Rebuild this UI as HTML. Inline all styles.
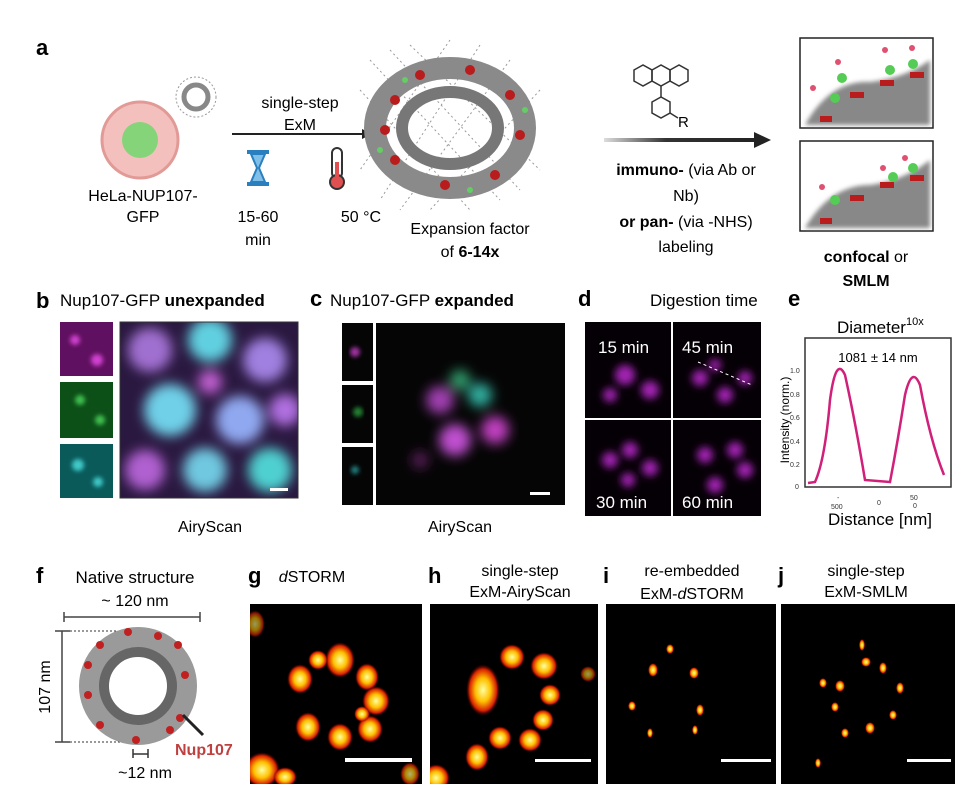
<!DOCTYPE html>
<html><head><meta charset="utf-8"><style>
body{margin:0;background:#fff;}
svg{display:block;font-family:"Liberation Sans",sans-serif;}
</style></head><body>
<svg width="980" height="803" viewBox="0 0 980 803" xmlns="http://www.w3.org/2000/svg">
<defs>
<filter id="b2"><feGaussianBlur stdDeviation="2"/></filter>
<filter id="b4"><feGaussianBlur stdDeviation="4"/></filter>
<filter id="b6"><feGaussianBlur stdDeviation="6"/></filter>
<radialGradient id="hot"><stop offset="0" stop-color="#ffffa0"/><stop offset="0.45" stop-color="#ffc000"/><stop offset="0.8" stop-color="#d82000"/><stop offset="1" stop-color="#400" stop-opacity="0"/></radialGradient>
<marker id="ah" markerWidth="10" markerHeight="10" refX="8" refY="5" orient="auto" markerUnits="userSpaceOnUse"><path d="M0,0 L10,5 L0,10z" fill="#222"/></marker>
<linearGradient id="ag" x1="0" x2="1" y1="0" y2="0"><stop offset="0" stop-color="#ddd"/><stop offset="0.4" stop-color="#333"/><stop offset="1" stop-color="#222"/></linearGradient>
</defs>

<!-- panel a -->
<text x="36" y="55" font-size="22" font-weight="bold">a</text>
<circle cx="140" cy="140" r="38" fill="#f3c0bd" stroke="#e29a96" stroke-width="3"/>
<circle cx="140" cy="140" r="18" fill="#86d47a"/>
<circle cx="196" cy="97" r="20" fill="#fff" stroke="#999" stroke-dasharray="2 2"/>
<circle cx="196" cy="97" r="12" fill="none" stroke="#888" stroke-width="5"/>
<text x="143" y="201" font-size="16" text-anchor="middle">HeLa-NUP107-</text>
<text x="143" y="222" font-size="16" text-anchor="middle">GFP</text>
<text x="300" y="108" font-size="16" text-anchor="middle">single-step</text>
<text x="300" y="130" font-size="16" text-anchor="middle">ExM</text>
<line x1="232" y1="134" x2="370" y2="134" stroke="#222" stroke-width="2" marker-end="url(#ah)"/>
<g fill="#2a7fbf"><rect x="247" y="150" width="22" height="4"/><rect x="247" y="182" width="22" height="4"/>
<path d="M251,154 L265,154 L259,168 L265,182 L251,182 L257,168z" fill="#7fbfe8" stroke="#2a7fbf" stroke-width="2"/></g>
<rect x="332" y="148" width="10" height="30" rx="5" fill="#fff" stroke="#333" stroke-width="2"/>
<circle cx="337" cy="182" r="7" fill="#e05050" stroke="#333" stroke-width="2"/>
<rect x="335" y="162" width="4" height="16" fill="#e05050"/>
<text x="258" y="222" font-size="16" text-anchor="middle">15-60</text>
<text x="258" y="245" font-size="16" text-anchor="middle">min</text>
<text x="361" y="222" font-size="16" text-anchor="middle">50 °C</text>
<g stroke="#999" stroke-dasharray="2 3" fill="none" stroke-width="1">
<path d="M370,60 L500,200 M390,50 L520,190 M360,90 L470,210 M410,45 L540,170 M480,45 L380,200 M510,60 L400,210 M540,90 L430,210 M450,40 L360,170"/></g>
<ellipse cx="450" cy="128" rx="75" ry="60" fill="none" stroke="#8a8a8a" stroke-width="22"/>
<ellipse cx="450" cy="128" rx="48" ry="36" fill="none" stroke="#777" stroke-width="12"/>
<g fill="#b81c1c"><circle cx="395" cy="100" r="5"/><circle cx="420" cy="75" r="5"/><circle cx="470" cy="70" r="5"/><circle cx="510" cy="95" r="5"/><circle cx="520" cy="135" r="5"/><circle cx="495" cy="175" r="5"/><circle cx="445" cy="185" r="5"/><circle cx="395" cy="160" r="5"/><circle cx="385" cy="130" r="5"/></g>
<g fill="#6c6"><circle cx="405" cy="80" r="3"/><circle cx="525" cy="110" r="3"/><circle cx="470" cy="190" r="3"/><circle cx="380" cy="150" r="3"/></g>
<text x="470" y="234" font-size="16" text-anchor="middle">Expansion factor</text>
<text x="470" y="257" font-size="16" text-anchor="middle">of <tspan font-weight="bold">6-14x</tspan></text>
<!-- molecule -->
<g fill="none" stroke="#333" stroke-width="1.5">
<polygon points="634,70 643,65 652,70 652,81 643,86 634,81"/>
<polygon points="652,70 661,65 670,70 670,81 661,86 652,81"/>
<polygon points="670,70 679,65 688,70 688,81 679,86 670,81"/>
<line x1="661" y1="86" x2="661" y2="97"/>
<polygon points="652,102 661,97 670,102 670,113 661,118 652,113"/>
<line x1="670" y1="113" x2="678" y2="118"/></g>
<text x="678" y="127" font-size="15">R</text>
<rect x="604" y="138" width="154" height="4" fill="url(#ag)"/>
<path d="M754,132 L771,140 L754,148z" fill="#222"/>
<text x="686" y="175" font-size="16" text-anchor="middle"><tspan font-weight="bold">immuno-</tspan> (via Ab or</text>
<text x="686" y="201" font-size="16" text-anchor="middle">Nb)</text>
<text x="686" y="227" font-size="16" text-anchor="middle"><tspan font-weight="bold">or pan-</tspan> (via -NHS)</text>
<text x="686" y="252" font-size="16" text-anchor="middle">labeling</text>
<rect x="800" y="38" width="133" height="90" fill="#fff" stroke="#222" stroke-width="1.5"/>
<rect x="800" y="141" width="133" height="90" fill="#fff" stroke="#222" stroke-width="1.5"/>
<g fill="#888" filter="url(#b2)"><path d="M805,125 Q830,80 870,82 Q905,78 930,60 L930,125z"/><path d="M805,228 Q830,185 870,185 Q905,180 930,160 L930,228z"/></g>
<g fill="#b81c1c"><rect x="850" y="92" width="14" height="6"/><rect x="880" y="80" width="14" height="6"/><rect x="910" y="72" width="14" height="6"/><rect x="820" y="116" width="12" height="6"/><rect x="850" y="195" width="14" height="6"/><rect x="880" y="182" width="14" height="6"/><rect x="910" y="175" width="14" height="6"/><rect x="820" y="218" width="12" height="6"/></g>
<g fill="#5c5"><circle cx="835" cy="98" r="5"/><circle cx="842" cy="78" r="5"/><circle cx="890" cy="70" r="5"/><circle cx="913" cy="64" r="5"/><circle cx="835" cy="200" r="5"/><circle cx="893" cy="177" r="5"/><circle cx="913" cy="168" r="5"/></g>
<g fill="#e05070"><circle cx="813" cy="88" r="3"/><circle cx="838" cy="62" r="3"/><circle cx="885" cy="50" r="3"/><circle cx="912" cy="48" r="3"/><circle cx="822" cy="187" r="3"/><circle cx="883" cy="168" r="3"/><circle cx="905" cy="158" r="3"/></g>
<text x="866" y="262" font-size="16" text-anchor="middle"><tspan font-weight="bold">confocal</tspan> or</text>
<text x="866" y="286" font-size="16" text-anchor="middle" font-weight="bold">SMLM</text>

<!-- panel b -->
<text x="36" y="308" font-size="22" font-weight="bold">b</text>
<text x="60" y="306" font-size="17">Nup107-GFP <tspan font-weight="bold">unexpanded</tspan></text>
<rect x="60" y="322" width="53" height="54" fill="#601060"/>
<rect x="60" y="382" width="53" height="56" fill="#0c5018"/>
<rect x="60" y="444" width="53" height="54" fill="#0a5a5a"/>
<g filter="url(#b2)"><circle cx="75" cy="340" r="5" fill="#d040d0"/><circle cx="97" cy="360" r="6" fill="#d040d0"/><circle cx="80" cy="400" r="5" fill="#40c050"/><circle cx="100" cy="420" r="5" fill="#40c050"/><circle cx="78" cy="465" r="6" fill="#40c8c8"/><circle cx="98" cy="482" r="5" fill="#40c8c8"/></g>
<svg x="120" y="322" width="178" height="176">
<rect width="178" height="176" fill="#2a1840"/>
<g filter="url(#b6)">
<circle cx="30" cy="28" r="22" fill="#a070d0"/><circle cx="90" cy="18" r="22" fill="#60d0e0"/><circle cx="145" cy="38" r="22" fill="#a080e0"/><circle cx="50" cy="88" r="26" fill="#70d0e8"/><circle cx="120" cy="98" r="24" fill="#90a8f0"/><circle cx="25" cy="148" r="20" fill="#b060d0"/><circle cx="85" cy="148" r="22" fill="#70c8e0"/><circle cx="150" cy="148" r="22" fill="#50d0d0"/><circle cx="165" cy="88" r="16" fill="#b070e0"/><circle cx="90" cy="60" r="12" fill="#c060d0"/></g>
</svg>
<rect x="120" y="322" width="178" height="176" fill="none" stroke="#333"/>
<rect x="270" y="488" width="18" height="3" fill="#fff"/>
<text x="210" y="532" font-size="16" text-anchor="middle">AiryScan</text>

<!-- panel c -->
<text x="310" y="306" font-size="22" font-weight="bold">c</text>
<text x="330" y="306" font-size="17">Nup107-GFP <tspan font-weight="bold">expanded</tspan></text>
<rect x="342" y="323" width="31" height="58" fill="#050505"/>
<rect x="342" y="385" width="31" height="58" fill="#050505"/>
<rect x="342" y="447" width="31" height="58" fill="#050505"/>
<g filter="url(#b2)"><circle cx="355" cy="352" r="5" fill="#a030a0"/><circle cx="358" cy="412" r="5" fill="#208030"/><circle cx="355" cy="470" r="4" fill="#208080"/></g>
<rect x="376" y="323" width="189" height="182" fill="#050505"/>
<g filter="url(#b6)"><circle cx="440" cy="400" r="14" fill="#a040b0"/><circle cx="480" cy="395" r="12" fill="#30b0a0"/><circle cx="455" cy="440" r="16" fill="#c050d0"/><circle cx="495" cy="430" r="14" fill="#c040c0"/><circle cx="460" cy="380" r="10" fill="#30a070"/><circle cx="420" cy="460" r="8" fill="#602060"/></g>
<rect x="530" y="492" width="20" height="3" fill="#fff"/>
<text x="460" y="532" font-size="16" text-anchor="middle">AiryScan</text>

<!-- panel d -->
<text x="578" y="306" font-size="22" font-weight="bold">d</text>
<text x="650" y="306" font-size="17">Digestion time</text>
<rect x="585" y="322" width="176" height="194" fill="#050005"/>
<g filter="url(#b4)" fill="#a020b0">
<circle cx="625" cy="375" r="10"/><circle cx="650" cy="390" r="9"/><circle cx="610" cy="395" r="7"/>
<circle cx="700" cy="378" r="8"/><circle cx="725" cy="395" r="8"/><circle cx="745" cy="378" r="7"/><circle cx="715" cy="365" r="6"/>
<circle cx="610" cy="460" r="8"/><circle cx="630" cy="450" r="8"/><circle cx="650" cy="468" r="8"/><circle cx="628" cy="480" r="7"/>
<circle cx="705" cy="455" r="8"/><circle cx="735" cy="450" r="8"/><circle cx="745" cy="470" r="8"/><circle cx="715" cy="485" r="8"/></g>
<line x1="672" y1="322" x2="672" y2="516" stroke="#fff" stroke-width="2"/>
<line x1="585" y1="419" x2="761" y2="419" stroke="#fff" stroke-width="2"/>
<line x1="698" y1="362" x2="752" y2="385" stroke="#fff" stroke-dasharray="3 3"/>
<g fill="#fff" font-size="17"><text x="598" y="353">15 min</text><text x="682" y="353">45 min</text><text x="596" y="508">30 min</text><text x="682" y="508">60 min</text></g>

<!-- panel e -->
<text x="788" y="306" font-size="22" font-weight="bold">e</text>
<text x="837" y="333" font-size="17">Diameter<tspan font-size="11" dy="-8">10x</tspan></text>
<rect x="805" y="338" width="146" height="149" fill="none" stroke="#333" stroke-width="1.5"/>
<text x="878" y="362" font-size="13" text-anchor="middle">1081 ± 14 nm</text>
<path d="M808,483 L815,482 Q825,460 830,400 Q836,355 845,375 Q855,420 865,480 L890,482 Q898,440 905,395 Q912,365 920,385 Q930,440 944,475" fill="none" stroke="#d0207a" stroke-width="2.5"/>
<g font-size="7" fill="#333"><text x="790" y="373">1.0</text><text x="790" y="397">0.8</text><text x="790" y="420">0.6</text><text x="790" y="444">0.4</text><text x="790" y="467">0.2</text><text x="795" y="489">0</text>
<text x="837" y="500">-</text><text x="831" y="509">500</text><text x="877" y="505">0</text><text x="910" y="500">50</text><text x="913" y="508">0</text></g>
<text x="793" y="420" font-size="12" transform="rotate(-90 793 420)" text-anchor="middle" dy="-4">Intensity (norm.)</text>
<text x="880" y="525" font-size="17" text-anchor="middle">Distance [nm]</text>

<!-- panel f -->
<text x="36" y="583" font-size="22" font-weight="bold">f</text>
<text x="135" y="583" font-size="17" text-anchor="middle">Native structure</text>
<text x="135" y="606" font-size="16" text-anchor="middle">~ 120 nm</text>
<path d="M64,612 V622 M64,617 H200 M200,612 V622" stroke="#444" stroke-width="1.5" fill="none"/>
<path d="M55,631 H70 M62,631 V742 M55,742 H70" stroke="#444" stroke-width="1.5" fill="none"/>
<path d="M70,631 H122 M70,742 H122" stroke="#333" stroke-dasharray="2 2"/>
<text x="50" y="687" font-size="16" text-anchor="middle" transform="rotate(-90 50 687)">107 nm</text>
<circle cx="138" cy="686" r="48" fill="none" stroke="#9a9a9a" stroke-width="22"/>
<circle cx="138" cy="686" r="34" fill="none" stroke="#666" stroke-width="10"/>
<g fill="#c02020"><circle cx="128" cy="632" r="4"/><circle cx="158" cy="636" r="4"/><circle cx="178" cy="645" r="4"/><circle cx="185" cy="675" r="4"/><circle cx="180" cy="718" r="4"/><circle cx="170" cy="730" r="4"/><circle cx="136" cy="740" r="4"/><circle cx="100" cy="725" r="4"/><circle cx="88" cy="695" r="4"/><circle cx="88" cy="665" r="4"/><circle cx="100" cy="645" r="4"/></g>
<line x1="183" y1="715" x2="203" y2="735" stroke="#222" stroke-width="3"/>
<text x="175" y="755" font-size="16" font-weight="bold" fill="#c04040">Nup107</text>
<path d="M133,749 V758 M133,754 H148 M148,749 V758" stroke="#333" stroke-width="1.5" fill="none"/>
<text x="145" y="778" font-size="16" text-anchor="middle">~12 nm</text>

<!-- g-j -->
<text x="248" y="583" font-size="22" font-weight="bold">g</text>
<text x="312" y="582" font-size="16" text-anchor="middle"><tspan font-style="italic">d</tspan>STORM</text>
<text x="428" y="583" font-size="22" font-weight="bold">h</text>
<text x="520" y="576" font-size="16" text-anchor="middle">single-step</text>
<text x="520" y="597" font-size="16" text-anchor="middle">ExM-AiryScan</text>
<text x="603" y="583" font-size="22" font-weight="bold">i</text>
<text x="692" y="576" font-size="16" text-anchor="middle">re-embedded</text>
<text x="692" y="599" font-size="16" text-anchor="middle">ExM-<tspan font-style="italic">d</tspan>STORM</text>
<text x="778" y="583" font-size="22" font-weight="bold">j</text>
<text x="866" y="576" font-size="16" text-anchor="middle">single-step</text>
<text x="866" y="597" font-size="16" text-anchor="middle">ExM-SMLM</text>

<rect x="250" y="604" width="172" height="180" fill="#000"/>
<rect x="430" y="604" width="168" height="180" fill="#000"/>
<rect x="606" y="604" width="170" height="180" fill="#000"/>
<rect x="781" y="604" width="174" height="180" fill="#000"/>
<svg x="250" y="604" width="172" height="180"><g fill="url(#hot)">
<ellipse cx="90" cy="56" rx="15" ry="18"/><ellipse cx="50" cy="75" rx="13" ry="15"/><ellipse cx="117" cy="73" rx="12" ry="14"/><ellipse cx="126" cy="97" rx="14" ry="15"/><ellipse cx="58" cy="123" rx="13" ry="15"/><ellipse cx="90" cy="133" rx="13" ry="14"/><ellipse cx="120" cy="125" rx="13" ry="14"/><ellipse cx="68" cy="56" rx="10" ry="10"/><ellipse cx="112" cy="110" rx="8" ry="8"/><ellipse cx="12" cy="166" rx="18" ry="18"/><ellipse cx="35" cy="173" rx="12" ry="10"/><ellipse cx="5" cy="20" rx="10" ry="14" opacity="0.6"/><ellipse cx="160" cy="170" rx="10" ry="12" opacity="0.7"/></g></svg>
<svg x="430" y="604" width="168" height="180"><g fill="url(#hot)">
<ellipse cx="53" cy="86" rx="17" ry="26"/><ellipse cx="82" cy="53" rx="13" ry="13"/><ellipse cx="114" cy="62" rx="14" ry="14"/><ellipse cx="120" cy="91" rx="11" ry="11"/><ellipse cx="113" cy="116" rx="11" ry="11"/><ellipse cx="100" cy="136" rx="12" ry="12"/><ellipse cx="70" cy="134" rx="12" ry="12"/><ellipse cx="47" cy="153" rx="12" ry="14"/><ellipse cx="6" cy="174" rx="14" ry="14"/><ellipse cx="158" cy="70" rx="8" ry="8" opacity="0.6"/></g></svg>
<g fill="url(#hot)"><ellipse cx="653" cy="670" rx="5" ry="7"/><ellipse cx="694" cy="673" rx="5" ry="6"/><ellipse cx="700" cy="710" rx="4" ry="6"/><ellipse cx="632" cy="706" rx="4" ry="5"/><ellipse cx="670" cy="649" rx="4" ry="5"/><ellipse cx="650" cy="733" rx="3" ry="5"/><ellipse cx="695" cy="730" rx="3" ry="5"/>
<ellipse cx="862" cy="645" rx="3" ry="6"/><ellipse cx="866" cy="662" rx="5" ry="5"/><ellipse cx="883" cy="668" rx="4" ry="6"/><ellipse cx="823" cy="683" rx="4" ry="5"/><ellipse cx="840" cy="686" rx="5" ry="6"/><ellipse cx="835" cy="707" rx="4" ry="5"/><ellipse cx="900" cy="688" rx="4" ry="6"/><ellipse cx="893" cy="715" rx="4" ry="5"/><ellipse cx="845" cy="733" rx="4" ry="5"/><ellipse cx="870" cy="728" rx="5" ry="6"/><ellipse cx="818" cy="763" rx="3" ry="5"/></g>
<rect x="345" y="758" width="67" height="4" fill="#fff"/>
<rect x="535" y="759" width="56" height="3" fill="#fff"/>
<rect x="721" y="759" width="50" height="3" fill="#fff"/>
<rect x="907" y="759" width="44" height="3" fill="#fff"/>
</svg>
</body></html>
